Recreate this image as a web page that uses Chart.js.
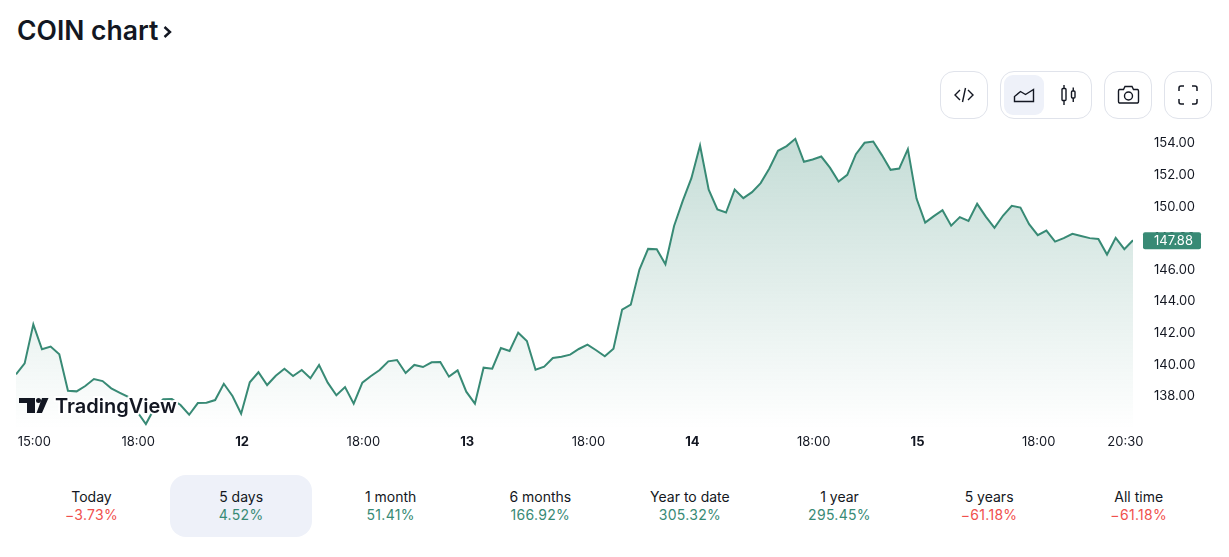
<!DOCTYPE html>
<html>
<head>
<meta charset="utf-8">
<title>COIN chart</title>
<script src="https://cdn.jsdelivr.net/npm/chart.js@4"></script>
<style>
    html, body { margin: 0; padding: 0; background: #fff; width: 1229px; height: 557px; overflow: hidden; font-family: Inter, sans-serif; color: #131722; }
    h1 { position: absolute; left: 17px; top: 14px; margin: 0; font-size: 26.5px; line-height: 32px; font-weight: 600; }
    h1 svg { position: absolute; left: 145px; top: 11px; }
    #chartBox { position: absolute; left: 0; top: 113px; width: 1229px; height: 348px; }
    .btn { position: absolute; top: 71px; height: 46px; border: 1px solid #e0e3eb; border-radius: 14px; box-sizing: content-box; }
    .btn svg { position: absolute; }
    .on { position: absolute; left: 3px; top: 3px; width: 40px; height: 40px; border-radius: 9px; background: #eef1f9; }
    #logo { position: absolute; left: 18px; top: 390px; width: 170px; height: 32px; }
    #logo text { font-family: Inter, sans-serif; font-size: 20px; font-weight: 600; fill: #131722; stroke: #fff; stroke-width: 4px; paint-order: stroke; stroke-linejoin: round; }
    #periods { position: absolute; left: 17px; top: 475px; }
    .period { position: absolute; top: 0; width: 142px; height: 62px; border-radius: 16px; text-align: center; font-size: 14px; line-height: 18px; box-sizing: border-box; padding-top: 13px; }
    .period.active { background: #eef1f9; }
    .period span { position: relative; left: 0.5px; }
    .up, .down { letter-spacing: 0.3px; }
    .up { color: #388a75; }
    .down { color: #f0504d; }
</style>
</head>
<body>
<h1>COIN chart<svg width="12" height="14" viewBox="0 0 12 14"><path d="M2.5 2l5.5 5-5.5 5" fill="none" stroke="#131722" stroke-width="2.4"/></svg></h1>

<div class="btn" style="left:940px;width:46px">
    <svg style="left:13px;top:13px" width="20" height="20" viewBox="0 0 20 20" fill="none" stroke="#131722" stroke-width="1.4"><path d="M6 5l-5 5 5 5M14 5l5 5-5 5M11.5 3l-3 14"/></svg>
</div>
<div class="btn" style="left:1000px;width:90px">
    <div class="on"></div>
    <svg style="left:12px;top:14px" width="22" height="18" viewBox="0 0 22 18" fill="none" stroke="#131722" stroke-width="1.4"><path d="M1.5 15.5v-5l6-5 5 3 8-5v12z"/></svg>
    <svg style="left:58px;top:12px" width="20" height="22" viewBox="0 0 20 22" fill="none" stroke="#131722" stroke-width="1.4"><rect x="3" y="4.5" width="4" height="12" rx="1"/><rect x="12.5" y="7" width="3.5" height="7" rx="1"/><path d="M5 1v3.500M5 16.500V21M14.250 3.500V7M14.250 14v4"/></svg>
</div>
<div class="btn" style="left:1104px;width:46px">
    <svg style="left:12px;top:13px" width="23" height="20" viewBox="0 0 23 20" fill="none" stroke="#131722" stroke-width="1.4"><path d="M2.5 4.500h4l1.500-3h7l1.500 3h4a1.500 1.500 0 0 1 1 1.500v10.500a1.500 1.500 0 0 1-1 1.500h-18a1.500 1.500 0 0 1-1-1.500V6a1.500 1.500 0 0 1 1-1.500z"/><circle cx="11.500" cy="11" r="4"/></svg>
</div>
<div class="btn" style="left:1164px;width:46px">
    <svg style="left:13px;top:13px" width="20" height="20" viewBox="0 0 20 20" fill="none" stroke="#131722" stroke-width="1.5"><path d="M1 6V3a2 2 0 0 1 2-2h3M14 1h3a2 2 0 0 1 2 2v3M19 14v3a2 2 0 0 1-2 2h-3M6 19H3a2 2 0 0 1-2-2v-3"/></svg>
</div>

<div id="chartBox"><canvas id="coinChart"></canvas></div>

<svg id="logo" viewBox="0 0 170 32">
    <path d="M1 8h16v15h-8V13H1z M24 8h6.500l-6.500 15h-5.500z" fill="#131722"/>
    <circle cx="20.500" cy="10.500" r="2.500" fill="#131722"/>
    <text x="37" y="23">TradingView</text>
</svg>

<div id="periods"></div>

<script>
const prices = [
    139.40, 140.09, 142.56, 140.98, 141.15, 140.66, 138.36, 138.32, 138.66, 139.10,
    138.97, 138.51, 138.23, 137.96, 137.03, 136.25, 137.27, 137.82, 137.84, 137.46,
    136.84, 137.58, 137.60, 137.77, 138.80, 138.03, 136.91, 138.89, 139.53, 138.72,
    139.31, 139.75, 139.29, 139.67, 139.15, 139.99, 138.87, 138.07, 138.59, 137.54,
    138.87, 139.29, 139.67, 140.22, 140.30, 139.48, 139.99, 139.86, 140.16, 140.18,
    139.25, 139.65, 138.30, 137.54, 139.82, 139.75, 141.06, 140.87, 142.03, 141.51,
    139.69, 139.88, 140.43, 140.51, 140.64, 141.00, 141.27, 140.92, 140.54, 141.02,
    143.49, 143.80, 146.02, 147.33, 147.31, 146.36, 148.78, 150.37, 151.80, 153.87,
    151.08, 149.82, 149.63, 151.08, 150.54, 150.92, 151.49, 152.41, 153.53, 153.83,
    154.29, 152.84, 152.98, 153.17, 152.47, 151.59, 152.01, 153.32, 154.04, 154.12,
    153.26, 152.33, 152.41, 153.64, 150.51, 148.99, 149.40, 149.78, 148.80, 149.34,
    149.10, 150.18, 149.37, 148.66, 149.44, 150.05, 149.94, 148.89, 148.20, 148.49,
    147.79, 148.01, 148.28, 148.15, 148.01, 147.96, 146.97, 148.03, 147.31, 147.88
];
const lastPrice = 147.88;
const priceTicks = [138, 140, 142, 144, 146, 148, 150, 152, 154];
const timeTickPoints = [2, 14, 26, 40, 52, 66, 78, 92, 104, 118, 128];
const timeTickLabels = ["15:00", "18:00", "12", "18:00", "13", "18:00", "14", "18:00", "15", "18:00", "20:30"];
const dayLabels = ["12", "13", "14", "15"];
const periodNames = ["Today", "5 days", "1 month", "6 months", "Year to date", "1 year", "5 years", "All time"];
const periodChanges = ["−3.73%", "4.52%", "51.41%", "166.92%", "305.32%", "295.45%", "−61.18%", "−61.18%"];

const lineColor = "#388a75";
const textColor = "#131722";

// bottom row of periods
const periodsDiv = document.getElementById("periods");
periodNames.forEach((name, i) => {
    const cell = document.createElement("div");
    cell.className = name === "5 days" ? "period active" : "period";
    cell.style.left = (i * 149.6 + 3) + "px";
    const change = periodChanges[i];
    const cls = change.startsWith("−") ? "down" : "up";
    cell.innerHTML = `<div><span>${name}</span></div><div class="${cls}"><span>${change}</span></div>`;
    periodsDiv.appendChild(cell);
});

// green tag with the last price on the right axis
const lastPriceTag = {
    id: "lastPriceTag",
    afterDraw(chart) {
        const ctx = chart.ctx;
        const y = chart.scales.y.getPixelForValue(lastPrice);
        ctx.save();
        ctx.fillStyle = lineColor;
        ctx.beginPath();
        ctx.roundRect(1143, y - 8, 58, 17, 2);
        ctx.fill();
        ctx.fillStyle = "#fff";
        ctx.font = "13px Inter";
        ctx.textAlign = "left";
        ctx.textBaseline = "middle";
        ctx.fillText(lastPrice.toFixed(2), 1154, y + 0.5);
        ctx.restore();
    },
};

new Chart(document.getElementById("coinChart"), {
    type: "line",
    data: {
        datasets: [
            {
                data: prices.map((p, i) => ({ x: i, y: p })),
                borderColor: lineColor,
                borderWidth: 2,
                pointRadius: 0,
                tension: 0,
                fill: "start",
                backgroundColor: (context) => {
                    const area = context.chart.chartArea;
                    if (!area) return "transparent";
                    const grad = context.chart.ctx.createLinearGradient(0, area.top, 0, area.bottom);
                    grad.addColorStop(0, "rgba(56,138,117,0.31)");
                    grad.addColorStop(1, "rgba(56,138,117,0)");
                    return grad;
                },
            },
        ],
    },
    options: {
        responsive: true,
        maintainAspectRatio: false,
        animation: false,
        layout: { padding: { left: 16, right: 0, top: 0, bottom: 0 } },
        plugins: { legend: { display: false }, tooltip: { enabled: false } },
        scales: {
            x: {
                type: "linear",
                min: 0,
                max: 129,
                grid: { display: false, tickLength: 5 },
                border: { display: false },
                afterBuildTicks(scale) {
                    scale.ticks = timeTickPoints.map((v) => ({ value: v }));
                },
                afterFit(scale) {
                    scale.height = 32;
                },
                ticks: {
                    autoSkip: false,
                    maxRotation: 0,
                    padding: 0,
                    labelOffset: 1,
                    color: textColor,
                    font: (c) => ({
                        family: "Inter",
                        size: 13,
                        weight: dayLabels.includes(timeTickLabels[c.index]) ? "700" : "400",
                    }),
                    callback: (value, index) => timeTickLabels[index],
                },
            },
            y: {
                position: "right",
                min: 135.94,
                max: 155.43,
                grid: { display: false, tickLength: 21 },
                border: { display: false },
                afterBuildTicks(scale) {
                    scale.ticks = priceTicks.map((v) => ({ value: v }));
                },
                afterFit(scale) {
                    scale.width = 96;
                },
                ticks: {
                    padding: 0,
                    color: textColor,
                    font: { family: "Inter", size: 13 },
                    callback: (value) => value.toFixed(2),
                },
            },
        },
    },
    plugins: [lastPriceTag],
});
</script>
</body>
</html>
